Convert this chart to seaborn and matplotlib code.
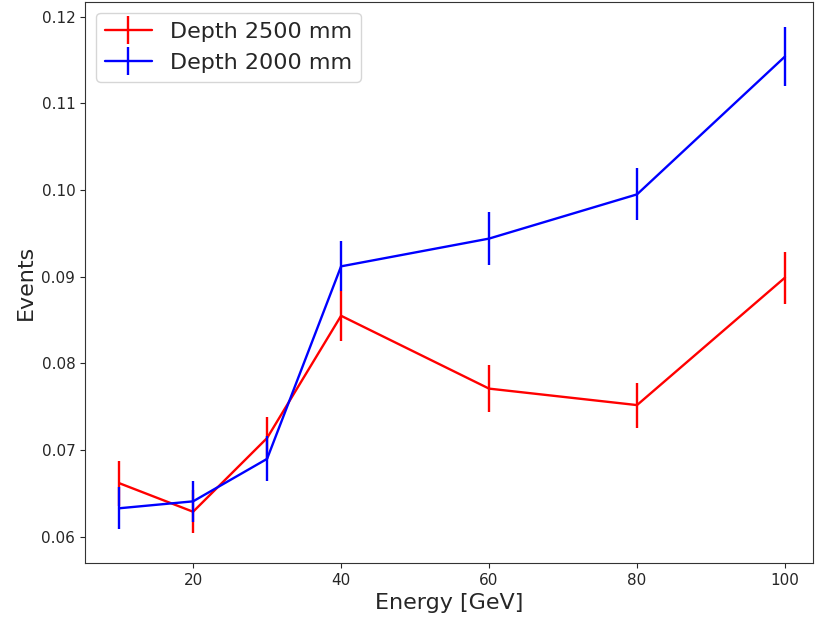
import pandas as pd
import seaborn as sns
import matplotlib.pyplot as plt
from matplotlib.lines import Line2D

# energies and event fractions
energy = [10, 20, 30, 40, 60, 80, 100]
depth_2500 = [0.0662, 0.0629, 0.0714, 0.0855, 0.0771, 0.0752, 0.0899]
err_2500 = [0.0026, 0.0025, 0.0024, 0.0029, 0.0027, 0.0026, 0.0030]
depth_2000 = [0.0633, 0.0641, 0.0690, 0.0912, 0.0944, 0.0995, 0.1154]
err_2000 = [0.0024, 0.0024, 0.0026, 0.0029, 0.0031, 0.0030, 0.0034]

df = pd.DataFrame({
    'energy': energy * 2,
    'events': depth_2500 + depth_2000,
    'err': err_2500 + err_2000,
    'depth': ['Depth 2500 mm'] * len(energy) + ['Depth 2000 mm'] * len(energy),
})

sns.set_style('ticks')
plt.rcParams['font.family'] = ['DejaVu Sans']

fig, ax = plt.subplots(figsize=(8.18, 6.22), dpi=100)
colors = {'Depth 2500 mm': 'red', 'Depth 2000 mm': 'blue'}

for name, grp in df.groupby('depth', sort=False):
    sns.lineplot(x='energy', y='events', data=grp, ax=ax, color=colors[name], linewidth=1.7, legend=False)
    ax.errorbar(grp['energy'], grp['events'], yerr=grp['err'], fmt='none',
                ecolor=colors[name], elinewidth=1.7, label=name)

# legend with line+bar crosses
handles, labels = ax.get_legend_handles_labels()
leg_handles = [Line2D([0], [0], color=colors[l], lw=1.7, marker='|', markersize=20, markeredgewidth=1.7) for l in labels]
ax.legend(leg_handles, labels, loc='upper left', fontsize=16, handlelength=2.1)

ax.set_ylim(0.0570, 0.1217)
ax.set_xlim(5.4, 103.8)
ax.set_xticks([20, 40, 60, 80, 100])
ax.set_yticks([0.06, 0.07, 0.08, 0.09, 0.10, 0.11, 0.12])
ax.set_yticklabels(['0.06', '0.07', '0.08', '0.09', '0.10', '0.11', '0.12'])
ax.tick_params(labelsize=11)
ax.set_xlabel('Energy [GeV]', fontsize=16)
ax.set_ylabel('Events', fontsize=16)
for s in ax.spines.values():
    s.set_visible(True)
    s.set_color('#333333')

fig.subplots_adjust(left=0.104, right=0.994, top=0.997, bottom=0.095)
fig.savefig('out.png', dpi=100)
